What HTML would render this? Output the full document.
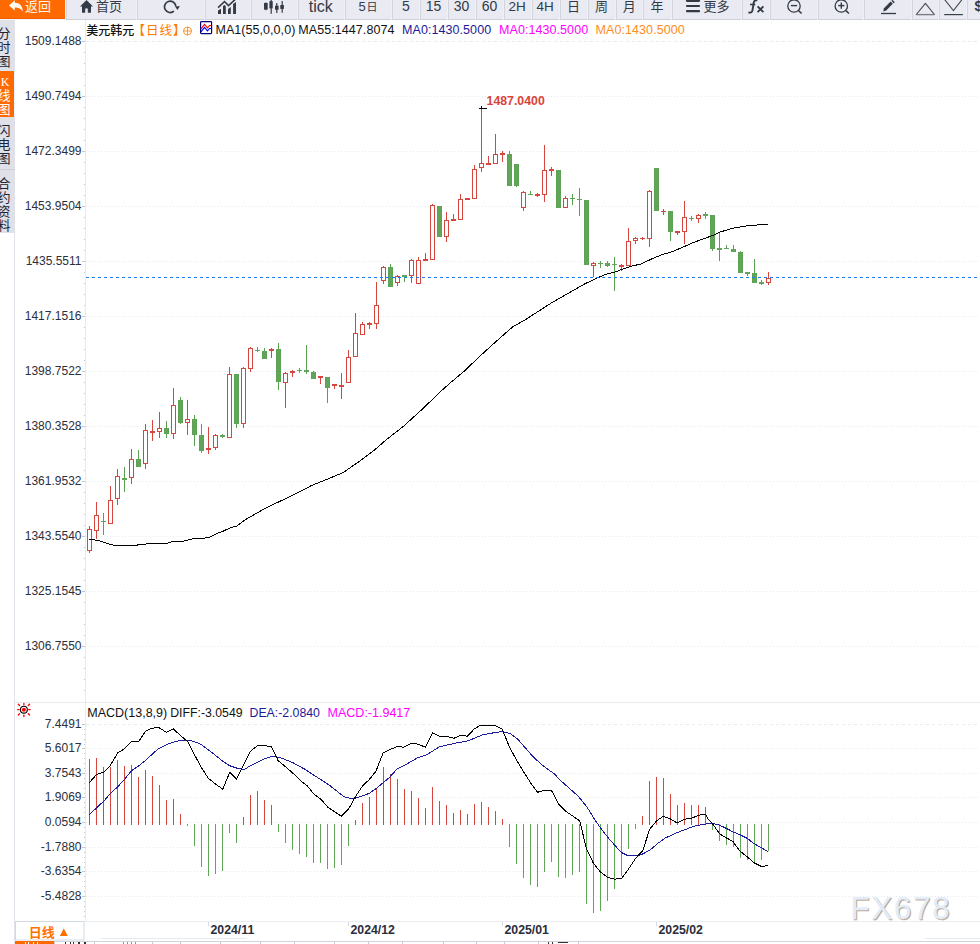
<!DOCTYPE html>
<html><head><meta charset="utf-8"><title>USDKRW</title>
<style>
html,body{margin:0;padding:0;background:#fff;width:980px;height:944px;overflow:hidden;}
body{position:relative;font-family:"Liberation Sans", "Noto Sans CJK SC", sans-serif;}
svg{position:absolute;left:0;top:0;}
</style></head>
<body>
<svg width="980" height="944" viewBox="0 0 980 944" shape-rendering="crispEdges">
<line x1="86" y1="41.5" x2="980" y2="41.5" stroke="#e6ebef" stroke-dasharray="3 3"/>
<line x1="86" y1="96.5" x2="980" y2="96.5" stroke="#e6ebef" stroke-dasharray="1 2"/>
<line x1="86" y1="151.5" x2="980" y2="151.5" stroke="#e6ebef" stroke-dasharray="1 2"/>
<line x1="86" y1="206.5" x2="980" y2="206.5" stroke="#e6ebef" stroke-dasharray="1 2"/>
<line x1="86" y1="261.5" x2="980" y2="261.5" stroke="#e6ebef" stroke-dasharray="1 2"/>
<line x1="86" y1="316.5" x2="980" y2="316.5" stroke="#e6ebef" stroke-dasharray="1 2"/>
<line x1="86" y1="371.5" x2="980" y2="371.5" stroke="#e6ebef" stroke-dasharray="1 2"/>
<line x1="86" y1="426.5" x2="980" y2="426.5" stroke="#e6ebef" stroke-dasharray="1 2"/>
<line x1="86" y1="481.5" x2="980" y2="481.5" stroke="#e6ebef" stroke-dasharray="1 2"/>
<line x1="86" y1="536.5" x2="980" y2="536.5" stroke="#e6ebef" stroke-dasharray="1 2"/>
<line x1="86" y1="591.5" x2="980" y2="591.5" stroke="#e6ebef" stroke-dasharray="1 2"/>
<line x1="86" y1="646.5" x2="980" y2="646.5" stroke="#e6ebef" stroke-dasharray="1 2"/>
<line x1="86" y1="724.5" x2="980" y2="724.5" stroke="#e6ebef" stroke-dasharray="3 3"/>
<line x1="86" y1="748.5" x2="980" y2="748.5" stroke="#e6ebef" stroke-dasharray="1 2"/>
<line x1="86" y1="773.5" x2="980" y2="773.5" stroke="#e6ebef" stroke-dasharray="1 2"/>
<line x1="86" y1="797.5" x2="980" y2="797.5" stroke="#e6ebef" stroke-dasharray="1 2"/>
<line x1="86" y1="822.5" x2="980" y2="822.5" stroke="#e6ebef" stroke-dasharray="1 2"/>
<line x1="86" y1="847.5" x2="980" y2="847.5" stroke="#e6ebef" stroke-dasharray="1 2"/>
<line x1="86" y1="871.5" x2="980" y2="871.5" stroke="#e6ebef" stroke-dasharray="1 2"/>
<line x1="86" y1="896.5" x2="980" y2="896.5" stroke="#e6ebef" stroke-dasharray="1 2"/>
<line x1="85.5" y1="20" x2="85.5" y2="921" stroke="#e6ebf0"/>
<line x1="14.5" y1="233" x2="14.5" y2="944" stroke="#dfe4ea"/>
<line x1="15" y1="702.5" x2="980" y2="702.5" stroke="#e6ebf0"/>
<line x1="85" y1="921.5" x2="980" y2="921.5" stroke="#e9edf2"/>
<line x1="82" y1="41.5" x2="85" y2="41.5" stroke="#bfc7d0"/>
<line x1="84" y1="52.5" x2="85" y2="52.5" stroke="#bfc7d0"/>
<line x1="84" y1="63.5" x2="85" y2="63.5" stroke="#bfc7d0"/>
<line x1="84" y1="74.5" x2="85" y2="74.5" stroke="#bfc7d0"/>
<line x1="84" y1="85.5" x2="85" y2="85.5" stroke="#bfc7d0"/>
<line x1="82" y1="96.5" x2="85" y2="96.5" stroke="#bfc7d0"/>
<line x1="84" y1="107.5" x2="85" y2="107.5" stroke="#bfc7d0"/>
<line x1="84" y1="118.5" x2="85" y2="118.5" stroke="#bfc7d0"/>
<line x1="84" y1="129.5" x2="85" y2="129.5" stroke="#bfc7d0"/>
<line x1="84" y1="140.5" x2="85" y2="140.5" stroke="#bfc7d0"/>
<line x1="82" y1="151.5" x2="85" y2="151.5" stroke="#bfc7d0"/>
<line x1="84" y1="162.5" x2="85" y2="162.5" stroke="#bfc7d0"/>
<line x1="84" y1="173.5" x2="85" y2="173.5" stroke="#bfc7d0"/>
<line x1="84" y1="184.5" x2="85" y2="184.5" stroke="#bfc7d0"/>
<line x1="84" y1="195.5" x2="85" y2="195.5" stroke="#bfc7d0"/>
<line x1="82" y1="206.5" x2="85" y2="206.5" stroke="#bfc7d0"/>
<line x1="84" y1="217.5" x2="85" y2="217.5" stroke="#bfc7d0"/>
<line x1="84" y1="228.5" x2="85" y2="228.5" stroke="#bfc7d0"/>
<line x1="84" y1="239.5" x2="85" y2="239.5" stroke="#bfc7d0"/>
<line x1="84" y1="250.5" x2="85" y2="250.5" stroke="#bfc7d0"/>
<line x1="82" y1="261.5" x2="85" y2="261.5" stroke="#bfc7d0"/>
<line x1="84" y1="272.5" x2="85" y2="272.5" stroke="#bfc7d0"/>
<line x1="84" y1="283.5" x2="85" y2="283.5" stroke="#bfc7d0"/>
<line x1="84" y1="294.5" x2="85" y2="294.5" stroke="#bfc7d0"/>
<line x1="84" y1="305.5" x2="85" y2="305.5" stroke="#bfc7d0"/>
<line x1="82" y1="316.5" x2="85" y2="316.5" stroke="#bfc7d0"/>
<line x1="84" y1="327.5" x2="85" y2="327.5" stroke="#bfc7d0"/>
<line x1="84" y1="338.5" x2="85" y2="338.5" stroke="#bfc7d0"/>
<line x1="84" y1="349.5" x2="85" y2="349.5" stroke="#bfc7d0"/>
<line x1="84" y1="360.5" x2="85" y2="360.5" stroke="#bfc7d0"/>
<line x1="82" y1="371.5" x2="85" y2="371.5" stroke="#bfc7d0"/>
<line x1="84" y1="382.5" x2="85" y2="382.5" stroke="#bfc7d0"/>
<line x1="84" y1="393.5" x2="85" y2="393.5" stroke="#bfc7d0"/>
<line x1="84" y1="404.5" x2="85" y2="404.5" stroke="#bfc7d0"/>
<line x1="84" y1="415.5" x2="85" y2="415.5" stroke="#bfc7d0"/>
<line x1="82" y1="426.5" x2="85" y2="426.5" stroke="#bfc7d0"/>
<line x1="84" y1="437.5" x2="85" y2="437.5" stroke="#bfc7d0"/>
<line x1="84" y1="448.5" x2="85" y2="448.5" stroke="#bfc7d0"/>
<line x1="84" y1="459.5" x2="85" y2="459.5" stroke="#bfc7d0"/>
<line x1="84" y1="470.5" x2="85" y2="470.5" stroke="#bfc7d0"/>
<line x1="82" y1="481.5" x2="85" y2="481.5" stroke="#bfc7d0"/>
<line x1="84" y1="492.5" x2="85" y2="492.5" stroke="#bfc7d0"/>
<line x1="84" y1="503.5" x2="85" y2="503.5" stroke="#bfc7d0"/>
<line x1="84" y1="514.5" x2="85" y2="514.5" stroke="#bfc7d0"/>
<line x1="84" y1="525.5" x2="85" y2="525.5" stroke="#bfc7d0"/>
<line x1="82" y1="536.5" x2="85" y2="536.5" stroke="#bfc7d0"/>
<line x1="84" y1="547.5" x2="85" y2="547.5" stroke="#bfc7d0"/>
<line x1="84" y1="558.5" x2="85" y2="558.5" stroke="#bfc7d0"/>
<line x1="84" y1="569.5" x2="85" y2="569.5" stroke="#bfc7d0"/>
<line x1="84" y1="580.5" x2="85" y2="580.5" stroke="#bfc7d0"/>
<line x1="82" y1="591.5" x2="85" y2="591.5" stroke="#bfc7d0"/>
<line x1="84" y1="602.5" x2="85" y2="602.5" stroke="#bfc7d0"/>
<line x1="84" y1="613.5" x2="85" y2="613.5" stroke="#bfc7d0"/>
<line x1="84" y1="624.5" x2="85" y2="624.5" stroke="#bfc7d0"/>
<line x1="84" y1="635.5" x2="85" y2="635.5" stroke="#bfc7d0"/>
<line x1="82" y1="646.5" x2="85" y2="646.5" stroke="#bfc7d0"/>
<line x1="84" y1="657.5" x2="85" y2="657.5" stroke="#bfc7d0"/>
<line x1="84" y1="668.5" x2="85" y2="668.5" stroke="#bfc7d0"/>
<line x1="84" y1="679.5" x2="85" y2="679.5" stroke="#bfc7d0"/>
<line x1="84" y1="690.5" x2="85" y2="690.5" stroke="#bfc7d0"/>
<line x1="82" y1="724.5" x2="85" y2="724.5" stroke="#bfc7d0"/>
<line x1="84" y1="729.5" x2="85" y2="729.5" stroke="#bfc7d0"/>
<line x1="84" y1="734.5" x2="85" y2="734.5" stroke="#bfc7d0"/>
<line x1="84" y1="739.5" x2="85" y2="739.5" stroke="#bfc7d0"/>
<line x1="84" y1="744.5" x2="85" y2="744.5" stroke="#bfc7d0"/>
<line x1="82" y1="748.5" x2="85" y2="748.5" stroke="#bfc7d0"/>
<line x1="84" y1="753.5" x2="85" y2="753.5" stroke="#bfc7d0"/>
<line x1="84" y1="758.5" x2="85" y2="758.5" stroke="#bfc7d0"/>
<line x1="84" y1="763.5" x2="85" y2="763.5" stroke="#bfc7d0"/>
<line x1="84" y1="768.5" x2="85" y2="768.5" stroke="#bfc7d0"/>
<line x1="82" y1="773.5" x2="85" y2="773.5" stroke="#bfc7d0"/>
<line x1="84" y1="778.5" x2="85" y2="778.5" stroke="#bfc7d0"/>
<line x1="84" y1="783.5" x2="85" y2="783.5" stroke="#bfc7d0"/>
<line x1="84" y1="788.5" x2="85" y2="788.5" stroke="#bfc7d0"/>
<line x1="84" y1="793.5" x2="85" y2="793.5" stroke="#bfc7d0"/>
<line x1="82" y1="797.5" x2="85" y2="797.5" stroke="#bfc7d0"/>
<line x1="84" y1="802.5" x2="85" y2="802.5" stroke="#bfc7d0"/>
<line x1="84" y1="807.5" x2="85" y2="807.5" stroke="#bfc7d0"/>
<line x1="84" y1="812.5" x2="85" y2="812.5" stroke="#bfc7d0"/>
<line x1="84" y1="817.5" x2="85" y2="817.5" stroke="#bfc7d0"/>
<line x1="82" y1="822.5" x2="85" y2="822.5" stroke="#bfc7d0"/>
<line x1="84" y1="827.5" x2="85" y2="827.5" stroke="#bfc7d0"/>
<line x1="84" y1="832.5" x2="85" y2="832.5" stroke="#bfc7d0"/>
<line x1="84" y1="837.5" x2="85" y2="837.5" stroke="#bfc7d0"/>
<line x1="84" y1="842.5" x2="85" y2="842.5" stroke="#bfc7d0"/>
<line x1="82" y1="847.5" x2="85" y2="847.5" stroke="#bfc7d0"/>
<line x1="84" y1="852.5" x2="85" y2="852.5" stroke="#bfc7d0"/>
<line x1="84" y1="857.5" x2="85" y2="857.5" stroke="#bfc7d0"/>
<line x1="84" y1="862.5" x2="85" y2="862.5" stroke="#bfc7d0"/>
<line x1="84" y1="867.5" x2="85" y2="867.5" stroke="#bfc7d0"/>
<line x1="82" y1="871.5" x2="85" y2="871.5" stroke="#bfc7d0"/>
<line x1="84" y1="876.5" x2="85" y2="876.5" stroke="#bfc7d0"/>
<line x1="84" y1="881.5" x2="85" y2="881.5" stroke="#bfc7d0"/>
<line x1="84" y1="886.5" x2="85" y2="886.5" stroke="#bfc7d0"/>
<line x1="84" y1="891.5" x2="85" y2="891.5" stroke="#bfc7d0"/>
<line x1="82" y1="896.5" x2="85" y2="896.5" stroke="#bfc7d0"/>
<line x1="84" y1="901.5" x2="85" y2="901.5" stroke="#bfc7d0"/>
<line x1="84" y1="906.5" x2="85" y2="906.5" stroke="#bfc7d0"/>
<line x1="84" y1="911.5" x2="85" y2="911.5" stroke="#bfc7d0"/>
<line x1="84" y1="916.5" x2="85" y2="916.5" stroke="#bfc7d0"/>
<line x1="89.5" y1="526" x2="89.5" y2="529" stroke="#d6463c"/>
<line x1="89.5" y1="551" x2="89.5" y2="553" stroke="#d6463c"/>
<rect x="87.5" y="529.5" width="4" height="21" fill="#fff" stroke="#d6463c"/>
<line x1="96.5" y1="502" x2="96.5" y2="515" stroke="#d6463c"/>
<line x1="96.5" y1="531" x2="96.5" y2="539" stroke="#d6463c"/>
<rect x="94.5" y="515.5" width="4" height="15" fill="#fff" stroke="#d6463c"/>
<line x1="103.5" y1="513" x2="103.5" y2="535" stroke="#57a04d"/>
<rect x="101" y="521" width="5" height="1" fill="#62a55a"/>
<line x1="110.5" y1="486" x2="110.5" y2="500" stroke="#d6463c"/>
<rect x="108.5" y="500.5" width="4" height="23" fill="#fff" stroke="#d6463c"/>
<line x1="117.5" y1="469" x2="117.5" y2="476" stroke="#d6463c"/>
<line x1="117.5" y1="499" x2="117.5" y2="505" stroke="#d6463c"/>
<rect x="115.5" y="476.5" width="4" height="22" fill="#fff" stroke="#d6463c"/>
<line x1="124.5" y1="467" x2="124.5" y2="492" stroke="#57a04d"/>
<rect x="122" y="478" width="5" height="2" fill="#62a55a"/>
<line x1="131.5" y1="449" x2="131.5" y2="459" stroke="#d6463c"/>
<line x1="131.5" y1="478" x2="131.5" y2="484" stroke="#d6463c"/>
<rect x="129.5" y="459.5" width="4" height="18" fill="#fff" stroke="#d6463c"/>
<line x1="138.5" y1="450" x2="138.5" y2="467" stroke="#57a04d"/>
<rect x="136" y="459" width="5" height="8" fill="#62a55a"/>
<line x1="136.5" y1="459" x2="136.5" y2="467" stroke="#57a04d" stroke-opacity="0.6"/>
<line x1="140.5" y1="459" x2="140.5" y2="467" stroke="#57a04d" stroke-opacity="0.6"/>
<line x1="145.5" y1="424" x2="145.5" y2="430" stroke="#d6463c"/>
<line x1="145.5" y1="464" x2="145.5" y2="469" stroke="#d6463c"/>
<rect x="143.5" y="430.5" width="4" height="33" fill="#fff" stroke="#d6463c"/>
<line x1="152.5" y1="420" x2="152.5" y2="431" stroke="#d6463c"/>
<line x1="152.5" y1="433" x2="152.5" y2="441" stroke="#d6463c"/>
<rect x="150" y="431" width="5" height="2" fill="#d6463c"/>
<line x1="159.5" y1="412" x2="159.5" y2="428" stroke="#d6463c"/>
<line x1="159.5" y1="432" x2="159.5" y2="438" stroke="#d6463c"/>
<rect x="157.5" y="428.5" width="4" height="3" fill="#fff" stroke="#d6463c"/>
<line x1="166.5" y1="421" x2="166.5" y2="438" stroke="#57a04d"/>
<rect x="164" y="428" width="5" height="6" fill="#62a55a"/>
<line x1="164.5" y1="428" x2="164.5" y2="434" stroke="#57a04d" stroke-opacity="0.6"/>
<line x1="168.5" y1="428" x2="168.5" y2="434" stroke="#57a04d" stroke-opacity="0.6"/>
<line x1="173.5" y1="388" x2="173.5" y2="405" stroke="#d6463c"/>
<line x1="173.5" y1="434" x2="173.5" y2="439" stroke="#d6463c"/>
<rect x="171.5" y="405.5" width="4" height="28" fill="#fff" stroke="#d6463c"/>
<line x1="180.5" y1="397" x2="180.5" y2="424" stroke="#57a04d"/>
<rect x="178" y="400" width="5" height="23" fill="#62a55a"/>
<line x1="178.5" y1="400" x2="178.5" y2="423" stroke="#57a04d" stroke-opacity="0.6"/>
<line x1="182.5" y1="400" x2="182.5" y2="423" stroke="#57a04d" stroke-opacity="0.6"/>
<line x1="187.5" y1="400" x2="187.5" y2="419" stroke="#d6463c"/>
<line x1="187.5" y1="423" x2="187.5" y2="435" stroke="#d6463c"/>
<rect x="185.5" y="419.5" width="4" height="3" fill="#fff" stroke="#d6463c"/>
<line x1="194.5" y1="415" x2="194.5" y2="446" stroke="#57a04d"/>
<rect x="192" y="419" width="5" height="16" fill="#62a55a"/>
<line x1="192.5" y1="419" x2="192.5" y2="435" stroke="#57a04d" stroke-opacity="0.6"/>
<line x1="196.5" y1="419" x2="196.5" y2="435" stroke="#57a04d" stroke-opacity="0.6"/>
<line x1="201.5" y1="424" x2="201.5" y2="453" stroke="#57a04d"/>
<rect x="199" y="435" width="5" height="16" fill="#62a55a"/>
<line x1="199.5" y1="435" x2="199.5" y2="451" stroke="#57a04d" stroke-opacity="0.6"/>
<line x1="203.5" y1="435" x2="203.5" y2="451" stroke="#57a04d" stroke-opacity="0.6"/>
<line x1="208.5" y1="427" x2="208.5" y2="448" stroke="#d6463c"/>
<line x1="208.5" y1="450" x2="208.5" y2="454" stroke="#d6463c"/>
<rect x="206" y="448" width="5" height="2" fill="#d6463c"/>
<line x1="215.5" y1="434" x2="215.5" y2="435" stroke="#d6463c"/>
<line x1="215.5" y1="448" x2="215.5" y2="450" stroke="#d6463c"/>
<rect x="213.5" y="435.5" width="4" height="12" fill="#fff" stroke="#d6463c"/>
<line x1="222.5" y1="434" x2="222.5" y2="438" stroke="#57a04d"/>
<rect x="220" y="435" width="5" height="2" fill="#62a55a"/>
<line x1="229.5" y1="367" x2="229.5" y2="374" stroke="#d6463c"/>
<rect x="227.5" y="374.5" width="4" height="63" fill="#fff" stroke="#d6463c"/>
<line x1="236.5" y1="374" x2="236.5" y2="428" stroke="#57a04d"/>
<rect x="234" y="374" width="5" height="50" fill="#62a55a"/>
<line x1="234.5" y1="374" x2="234.5" y2="424" stroke="#57a04d" stroke-opacity="0.6"/>
<line x1="238.5" y1="374" x2="238.5" y2="424" stroke="#57a04d" stroke-opacity="0.6"/>
<line x1="243.5" y1="367" x2="243.5" y2="368" stroke="#d6463c"/>
<line x1="243.5" y1="424" x2="243.5" y2="428" stroke="#d6463c"/>
<rect x="241.5" y="368.5" width="4" height="55" fill="#fff" stroke="#d6463c"/>
<line x1="250.5" y1="347" x2="250.5" y2="348" stroke="#d6463c"/>
<line x1="250.5" y1="369" x2="250.5" y2="372" stroke="#d6463c"/>
<rect x="248.5" y="348.5" width="4" height="20" fill="#fff" stroke="#d6463c"/>
<line x1="257.5" y1="347" x2="257.5" y2="352" stroke="#57a04d"/>
<rect x="255" y="350" width="5" height="1" fill="#62a55a"/>
<line x1="264.5" y1="348" x2="264.5" y2="359" stroke="#57a04d"/>
<rect x="262" y="351" width="5" height="8" fill="#62a55a"/>
<line x1="262.5" y1="351" x2="262.5" y2="359" stroke="#57a04d" stroke-opacity="0.6"/>
<line x1="266.5" y1="351" x2="266.5" y2="359" stroke="#57a04d" stroke-opacity="0.6"/>
<line x1="271.5" y1="348" x2="271.5" y2="349" stroke="#d6463c"/>
<line x1="271.5" y1="351" x2="271.5" y2="358" stroke="#d6463c"/>
<rect x="269" y="349" width="5" height="2" fill="#d6463c"/>
<line x1="278.5" y1="343" x2="278.5" y2="390" stroke="#57a04d"/>
<rect x="276" y="349" width="5" height="33" fill="#62a55a"/>
<line x1="276.5" y1="349" x2="276.5" y2="382" stroke="#57a04d" stroke-opacity="0.6"/>
<line x1="280.5" y1="349" x2="280.5" y2="382" stroke="#57a04d" stroke-opacity="0.6"/>
<line x1="285.5" y1="372" x2="285.5" y2="373" stroke="#d6463c"/>
<line x1="285.5" y1="383" x2="285.5" y2="408" stroke="#d6463c"/>
<rect x="283.5" y="373.5" width="4" height="9" fill="#fff" stroke="#d6463c"/>
<line x1="292.5" y1="370" x2="292.5" y2="371" stroke="#d6463c"/>
<line x1="292.5" y1="373" x2="292.5" y2="377" stroke="#d6463c"/>
<rect x="290" y="371" width="5" height="2" fill="#d6463c"/>
<line x1="299.5" y1="368" x2="299.5" y2="373" stroke="#57a04d"/>
<rect x="297" y="370" width="5" height="1" fill="#62a55a"/>
<line x1="306.5" y1="345" x2="306.5" y2="374" stroke="#57a04d"/>
<rect x="304" y="370" width="5" height="2" fill="#62a55a"/>
<line x1="313.5" y1="371" x2="313.5" y2="379" stroke="#57a04d"/>
<rect x="311" y="372" width="5" height="7" fill="#62a55a"/>
<line x1="311.5" y1="372" x2="311.5" y2="379" stroke="#57a04d" stroke-opacity="0.6"/>
<line x1="315.5" y1="372" x2="315.5" y2="379" stroke="#57a04d" stroke-opacity="0.6"/>
<line x1="320.5" y1="378" x2="320.5" y2="384" stroke="#d6463c"/>
<rect x="318" y="376" width="5" height="2" fill="#d6463c"/>
<line x1="327.5" y1="377" x2="327.5" y2="403" stroke="#57a04d"/>
<rect x="325" y="377" width="5" height="11" fill="#62a55a"/>
<line x1="325.5" y1="377" x2="325.5" y2="388" stroke="#57a04d" stroke-opacity="0.6"/>
<line x1="329.5" y1="377" x2="329.5" y2="388" stroke="#57a04d" stroke-opacity="0.6"/>
<line x1="334.5" y1="386" x2="334.5" y2="389" stroke="#d6463c"/>
<rect x="332" y="384" width="5" height="2" fill="#d6463c"/>
<line x1="341.5" y1="373" x2="341.5" y2="385" stroke="#d6463c"/>
<line x1="341.5" y1="387" x2="341.5" y2="399" stroke="#d6463c"/>
<rect x="339" y="385" width="5" height="2" fill="#d6463c"/>
<line x1="348.5" y1="350" x2="348.5" y2="357" stroke="#d6463c"/>
<rect x="346.5" y="357.5" width="4" height="25" fill="#fff" stroke="#d6463c"/>
<line x1="355.5" y1="313" x2="355.5" y2="333" stroke="#d6463c"/>
<rect x="353.5" y="333.5" width="4" height="23" fill="#fff" stroke="#d6463c"/>
<line x1="362.5" y1="322" x2="362.5" y2="324" stroke="#d6463c"/>
<rect x="360.5" y="324.5" width="4" height="10" fill="#fff" stroke="#d6463c"/>
<line x1="369.5" y1="322" x2="369.5" y2="323" stroke="#d6463c"/>
<line x1="369.5" y1="325" x2="369.5" y2="329" stroke="#d6463c"/>
<rect x="367" y="323" width="5" height="2" fill="#d6463c"/>
<line x1="376.5" y1="282" x2="376.5" y2="305" stroke="#d6463c"/>
<line x1="376.5" y1="324" x2="376.5" y2="329" stroke="#d6463c"/>
<rect x="374.5" y="305.5" width="4" height="18" fill="#fff" stroke="#d6463c"/>
<line x1="383.5" y1="266" x2="383.5" y2="267" stroke="#d6463c"/>
<line x1="383.5" y1="281" x2="383.5" y2="284" stroke="#d6463c"/>
<rect x="381.5" y="267.5" width="4" height="13" fill="#fff" stroke="#d6463c"/>
<line x1="390.5" y1="264" x2="390.5" y2="287" stroke="#57a04d"/>
<rect x="388" y="267" width="5" height="20" fill="#62a55a"/>
<line x1="388.5" y1="267" x2="388.5" y2="287" stroke="#57a04d" stroke-opacity="0.6"/>
<line x1="392.5" y1="267" x2="392.5" y2="287" stroke="#57a04d" stroke-opacity="0.6"/>
<line x1="397.5" y1="275" x2="397.5" y2="276" stroke="#d6463c"/>
<line x1="397.5" y1="283" x2="397.5" y2="286" stroke="#d6463c"/>
<rect x="395.5" y="276.5" width="4" height="6" fill="#fff" stroke="#d6463c"/>
<line x1="404.5" y1="275" x2="404.5" y2="282" stroke="#57a04d"/>
<rect x="402" y="275" width="5" height="2" fill="#62a55a"/>
<line x1="411.5" y1="259" x2="411.5" y2="260" stroke="#d6463c"/>
<line x1="411.5" y1="276" x2="411.5" y2="283" stroke="#d6463c"/>
<rect x="409.5" y="260.5" width="4" height="15" fill="#fff" stroke="#d6463c"/>
<line x1="418.5" y1="257" x2="418.5" y2="260" stroke="#d6463c"/>
<rect x="416.5" y="260.5" width="4" height="23" fill="#fff" stroke="#d6463c"/>
<line x1="425.5" y1="253" x2="425.5" y2="259" stroke="#d6463c"/>
<rect x="423" y="259" width="5" height="2" fill="#d6463c"/>
<line x1="432.5" y1="204" x2="432.5" y2="205" stroke="#d6463c"/>
<rect x="430.5" y="205.5" width="4" height="54" fill="#fff" stroke="#d6463c"/>
<line x1="439.5" y1="206" x2="439.5" y2="237" stroke="#57a04d"/>
<rect x="437" y="206" width="5" height="31" fill="#62a55a"/>
<line x1="437.5" y1="206" x2="437.5" y2="237" stroke="#57a04d" stroke-opacity="0.6"/>
<line x1="441.5" y1="206" x2="441.5" y2="237" stroke="#57a04d" stroke-opacity="0.6"/>
<line x1="446.5" y1="212" x2="446.5" y2="220" stroke="#d6463c"/>
<line x1="446.5" y1="237" x2="446.5" y2="242" stroke="#d6463c"/>
<rect x="444.5" y="220.5" width="4" height="16" fill="#fff" stroke="#d6463c"/>
<line x1="453.5" y1="214" x2="453.5" y2="219" stroke="#d6463c"/>
<rect x="451" y="219" width="5" height="2" fill="#d6463c"/>
<line x1="460.5" y1="194" x2="460.5" y2="199" stroke="#d6463c"/>
<rect x="458.5" y="199.5" width="4" height="20" fill="#fff" stroke="#d6463c"/>
<rect x="465" y="198" width="5" height="2" fill="#d6463c"/>
<line x1="474.5" y1="165" x2="474.5" y2="169" stroke="#d6463c"/>
<rect x="472.5" y="169.5" width="4" height="29" fill="#fff" stroke="#d6463c"/>
<line x1="481.5" y1="107" x2="481.5" y2="163" stroke="#d6463c"/>
<line x1="481.5" y1="168" x2="481.5" y2="172" stroke="#d6463c"/>
<rect x="479.5" y="163.5" width="4" height="4" fill="#fff" stroke="#d6463c"/>
<line x1="488.5" y1="156" x2="488.5" y2="163" stroke="#d6463c"/>
<rect x="486" y="163" width="5" height="2" fill="#d6463c"/>
<line x1="495.5" y1="134" x2="495.5" y2="154" stroke="#d6463c"/>
<rect x="493.5" y="154.5" width="4" height="9" fill="#fff" stroke="#d6463c"/>
<line x1="502.5" y1="151" x2="502.5" y2="153" stroke="#d6463c"/>
<line x1="502.5" y1="155" x2="502.5" y2="162" stroke="#d6463c"/>
<rect x="500" y="153" width="5" height="2" fill="#d6463c"/>
<line x1="509.5" y1="151" x2="509.5" y2="186" stroke="#57a04d"/>
<rect x="507" y="154" width="5" height="32" fill="#62a55a"/>
<line x1="507.5" y1="154" x2="507.5" y2="186" stroke="#57a04d" stroke-opacity="0.6"/>
<line x1="511.5" y1="154" x2="511.5" y2="186" stroke="#57a04d" stroke-opacity="0.6"/>
<line x1="516.5" y1="164" x2="516.5" y2="187" stroke="#57a04d"/>
<rect x="514" y="164" width="5" height="22" fill="#62a55a"/>
<line x1="514.5" y1="164" x2="514.5" y2="186" stroke="#57a04d" stroke-opacity="0.6"/>
<line x1="518.5" y1="164" x2="518.5" y2="186" stroke="#57a04d" stroke-opacity="0.6"/>
<line x1="523.5" y1="191" x2="523.5" y2="192" stroke="#d6463c"/>
<line x1="523.5" y1="208" x2="523.5" y2="211" stroke="#d6463c"/>
<rect x="521.5" y="192.5" width="4" height="15" fill="#fff" stroke="#d6463c"/>
<line x1="530.5" y1="191" x2="530.5" y2="195" stroke="#57a04d"/>
<rect x="528" y="194" width="5" height="1" fill="#62a55a"/>
<line x1="537.5" y1="193" x2="537.5" y2="194" stroke="#d6463c"/>
<line x1="537.5" y1="196" x2="537.5" y2="197" stroke="#d6463c"/>
<rect x="535" y="194" width="5" height="2" fill="#d6463c"/>
<line x1="544.5" y1="145" x2="544.5" y2="170" stroke="#d6463c"/>
<line x1="544.5" y1="195" x2="544.5" y2="202" stroke="#d6463c"/>
<rect x="542.5" y="170.5" width="4" height="24" fill="#fff" stroke="#d6463c"/>
<line x1="551.5" y1="167" x2="551.5" y2="169" stroke="#d6463c"/>
<line x1="551.5" y1="171" x2="551.5" y2="176" stroke="#d6463c"/>
<rect x="549" y="169" width="5" height="2" fill="#d6463c"/>
<line x1="558.5" y1="170" x2="558.5" y2="208" stroke="#57a04d"/>
<rect x="556" y="170" width="5" height="38" fill="#62a55a"/>
<line x1="556.5" y1="170" x2="556.5" y2="208" stroke="#57a04d" stroke-opacity="0.6"/>
<line x1="560.5" y1="170" x2="560.5" y2="208" stroke="#57a04d" stroke-opacity="0.6"/>
<line x1="565.5" y1="196" x2="565.5" y2="198" stroke="#d6463c"/>
<rect x="563.5" y="198.5" width="4" height="9" fill="#fff" stroke="#d6463c"/>
<line x1="572.5" y1="194" x2="572.5" y2="205" stroke="#57a04d"/>
<rect x="570" y="198" width="5" height="1" fill="#62a55a"/>
<line x1="579.5" y1="188" x2="579.5" y2="216" stroke="#57a04d"/>
<rect x="577" y="199" width="5" height="1" fill="#62a55a"/>
<line x1="586.5" y1="200" x2="586.5" y2="265" stroke="#57a04d"/>
<rect x="584" y="200" width="5" height="65" fill="#62a55a"/>
<line x1="584.5" y1="200" x2="584.5" y2="265" stroke="#57a04d" stroke-opacity="0.6"/>
<line x1="588.5" y1="200" x2="588.5" y2="265" stroke="#57a04d" stroke-opacity="0.6"/>
<line x1="593.5" y1="262" x2="593.5" y2="263" stroke="#d6463c"/>
<line x1="593.5" y1="266" x2="593.5" y2="277" stroke="#d6463c"/>
<rect x="591.5" y="263.5" width="4" height="2" fill="#fff" stroke="#d6463c"/>
<line x1="600.5" y1="261" x2="600.5" y2="268" stroke="#57a04d"/>
<rect x="598" y="263" width="5" height="1" fill="#62a55a"/>
<line x1="607.5" y1="261" x2="607.5" y2="267" stroke="#57a04d"/>
<rect x="605" y="263" width="5" height="3" fill="#62a55a"/>
<line x1="605.5" y1="263" x2="605.5" y2="266" stroke="#57a04d" stroke-opacity="0.6"/>
<line x1="609.5" y1="263" x2="609.5" y2="266" stroke="#57a04d" stroke-opacity="0.6"/>
<line x1="614.5" y1="257" x2="614.5" y2="291" stroke="#57a04d"/>
<rect x="612" y="264" width="5" height="1" fill="#62a55a"/>
<line x1="621.5" y1="264" x2="621.5" y2="265" stroke="#d6463c"/>
<line x1="621.5" y1="267" x2="621.5" y2="271" stroke="#d6463c"/>
<rect x="619" y="265" width="5" height="2" fill="#d6463c"/>
<line x1="628.5" y1="228" x2="628.5" y2="241" stroke="#d6463c"/>
<rect x="626.5" y="241.5" width="4" height="24" fill="#fff" stroke="#d6463c"/>
<line x1="635.5" y1="237" x2="635.5" y2="238" stroke="#d6463c"/>
<line x1="635.5" y1="241" x2="635.5" y2="244" stroke="#d6463c"/>
<rect x="633.5" y="238.5" width="4" height="2" fill="#fff" stroke="#d6463c"/>
<line x1="642.5" y1="237" x2="642.5" y2="238" stroke="#d6463c"/>
<line x1="642.5" y1="239" x2="642.5" y2="240" stroke="#d6463c"/>
<rect x="640" y="238" width="5" height="1" fill="#d6463c"/>
<line x1="649.5" y1="190" x2="649.5" y2="191" stroke="#d6463c"/>
<line x1="649.5" y1="239" x2="649.5" y2="247" stroke="#d6463c"/>
<rect x="647.5" y="191.5" width="4" height="47" fill="#fff" stroke="#d6463c"/>
<line x1="656.5" y1="168" x2="656.5" y2="211" stroke="#57a04d"/>
<rect x="654" y="168" width="5" height="43" fill="#62a55a"/>
<line x1="654.5" y1="168" x2="654.5" y2="211" stroke="#57a04d" stroke-opacity="0.6"/>
<line x1="658.5" y1="168" x2="658.5" y2="211" stroke="#57a04d" stroke-opacity="0.6"/>
<line x1="663.5" y1="209" x2="663.5" y2="211" stroke="#d6463c"/>
<line x1="663.5" y1="212" x2="663.5" y2="215" stroke="#d6463c"/>
<rect x="661" y="211" width="5" height="1" fill="#d6463c"/>
<line x1="670.5" y1="211" x2="670.5" y2="241" stroke="#57a04d"/>
<rect x="668" y="211" width="5" height="21" fill="#62a55a"/>
<line x1="668.5" y1="211" x2="668.5" y2="232" stroke="#57a04d" stroke-opacity="0.6"/>
<line x1="672.5" y1="211" x2="672.5" y2="232" stroke="#57a04d" stroke-opacity="0.6"/>
<line x1="677.5" y1="233" x2="677.5" y2="235" stroke="#d6463c"/>
<rect x="675" y="231" width="5" height="2" fill="#d6463c"/>
<line x1="684.5" y1="201" x2="684.5" y2="217" stroke="#d6463c"/>
<line x1="684.5" y1="232" x2="684.5" y2="244" stroke="#d6463c"/>
<rect x="682.5" y="217.5" width="4" height="14" fill="#fff" stroke="#d6463c"/>
<line x1="691.5" y1="216" x2="691.5" y2="221" stroke="#57a04d"/>
<rect x="689" y="218" width="5" height="1" fill="#62a55a"/>
<line x1="698.5" y1="214" x2="698.5" y2="215" stroke="#d6463c"/>
<line x1="698.5" y1="219" x2="698.5" y2="223" stroke="#d6463c"/>
<rect x="696.5" y="215.5" width="4" height="3" fill="#fff" stroke="#d6463c"/>
<line x1="705.5" y1="212" x2="705.5" y2="219" stroke="#57a04d"/>
<rect x="703" y="214" width="5" height="2" fill="#62a55a"/>
<line x1="712.5" y1="215" x2="712.5" y2="251" stroke="#57a04d"/>
<rect x="710" y="215" width="5" height="34" fill="#62a55a"/>
<line x1="710.5" y1="215" x2="710.5" y2="249" stroke="#57a04d" stroke-opacity="0.6"/>
<line x1="714.5" y1="215" x2="714.5" y2="249" stroke="#57a04d" stroke-opacity="0.6"/>
<line x1="719.5" y1="233" x2="719.5" y2="261" stroke="#57a04d"/>
<rect x="717" y="248" width="5" height="2" fill="#62a55a"/>
<line x1="726.5" y1="245" x2="726.5" y2="249" stroke="#57a04d"/>
<rect x="724" y="248" width="5" height="1" fill="#62a55a"/>
<line x1="733.5" y1="245" x2="733.5" y2="252" stroke="#57a04d"/>
<rect x="731" y="249" width="5" height="3" fill="#62a55a"/>
<line x1="731.5" y1="249" x2="731.5" y2="252" stroke="#57a04d" stroke-opacity="0.6"/>
<line x1="735.5" y1="249" x2="735.5" y2="252" stroke="#57a04d" stroke-opacity="0.6"/>
<line x1="740.5" y1="251" x2="740.5" y2="273" stroke="#57a04d"/>
<rect x="738" y="252" width="5" height="21" fill="#62a55a"/>
<line x1="738.5" y1="252" x2="738.5" y2="273" stroke="#57a04d" stroke-opacity="0.6"/>
<line x1="742.5" y1="252" x2="742.5" y2="273" stroke="#57a04d" stroke-opacity="0.6"/>
<line x1="747.5" y1="272" x2="747.5" y2="276" stroke="#57a04d"/>
<rect x="745" y="272" width="5" height="2" fill="#62a55a"/>
<line x1="754.5" y1="259" x2="754.5" y2="283" stroke="#57a04d"/>
<rect x="752" y="273" width="5" height="10" fill="#62a55a"/>
<line x1="752.5" y1="273" x2="752.5" y2="283" stroke="#57a04d" stroke-opacity="0.6"/>
<line x1="756.5" y1="273" x2="756.5" y2="283" stroke="#57a04d" stroke-opacity="0.6"/>
<line x1="761.5" y1="280" x2="761.5" y2="285" stroke="#57a04d"/>
<rect x="759" y="282" width="5" height="2" fill="#62a55a"/>
<line x1="768.5" y1="272" x2="768.5" y2="278" stroke="#d6463c"/>
<line x1="768.5" y1="283" x2="768.5" y2="285" stroke="#d6463c"/>
<rect x="766.5" y="278.5" width="4" height="4" fill="#fff" stroke="#d6463c"/>
<polyline points="89.1,539.2 97.6,540.4 102.6,541.9 109.0,543.9 114.0,545.3 134.0,545.4 148.3,543.8 149.7,543.1 167.6,543.1 172.6,541.4 184.0,541.1 193.3,538.6 204.7,538.1 209.7,537.1 218.3,532.9 222.6,531.4 229.8,528.0 237.1,525.9 244.5,520.2 265.7,508.0 293.5,494.9 311.4,485.6 326.1,479.7 343.3,472.5 360.4,460.6 373.5,450.8 386.3,439.7 403.5,426.3 422.2,409.2 442.7,389.6 450.0,383.1 464.7,370.8 477.8,358.1 491.6,345.5 500.0,338.0 513.1,326.5 524.5,320.3 537.6,311.8 552.2,302.4 568.6,293.1 584.9,283.8 598.0,277.6 606.1,274.3 614.3,272.3 624.1,268.6 630.6,266.4 642.0,263.7 650.2,259.6 663.3,254.1 671.2,252.1 680.5,248.2 691.1,243.5 703.1,238.9 712.4,235.6 720.3,232.0 732.3,228.3 742.9,226.5 752.0,225.2 760.0,224.9 767.8,224.9" fill="none" stroke="#000" stroke-width="1"/>
<line x1="86" y1="277.5" x2="980" y2="277.5" stroke="#1a7df0" stroke-dasharray="3 3"/>
<line x1="479" y1="108.5" x2="487" y2="108.5" stroke="#000"/>
<line x1="481.5" y1="106" x2="481.5" y2="109" stroke="#000"/>
<line x1="89.5" y1="759" x2="89.5" y2="825" stroke="#d6463c"/>
<line x1="96.5" y1="758" x2="96.5" y2="825" stroke="#d6463c"/>
<line x1="103.5" y1="767" x2="103.5" y2="825" stroke="#d6463c"/>
<line x1="110.5" y1="767" x2="110.5" y2="825" stroke="#d6463c"/>
<line x1="117.5" y1="760" x2="117.5" y2="825" stroke="#d6463c"/>
<line x1="124.5" y1="766" x2="124.5" y2="825" stroke="#d6463c"/>
<line x1="131.5" y1="765" x2="131.5" y2="825" stroke="#d6463c"/>
<line x1="138.5" y1="777" x2="138.5" y2="825" stroke="#d6463c"/>
<line x1="145.5" y1="770" x2="145.5" y2="825" stroke="#d6463c"/>
<line x1="152.5" y1="776" x2="152.5" y2="825" stroke="#d6463c"/>
<line x1="159.5" y1="785" x2="159.5" y2="825" stroke="#d6463c"/>
<line x1="166.5" y1="800" x2="166.5" y2="825" stroke="#d6463c"/>
<line x1="173.5" y1="799" x2="173.5" y2="825" stroke="#d6463c"/>
<line x1="180.5" y1="814" x2="180.5" y2="825" stroke="#d6463c"/>
<line x1="187.5" y1="824" x2="187.5" y2="826" stroke="#5fa657"/>
<line x1="194.5" y1="824" x2="194.5" y2="846" stroke="#5fa657"/>
<line x1="201.5" y1="824" x2="201.5" y2="867" stroke="#5fa657"/>
<line x1="208.5" y1="824" x2="208.5" y2="876" stroke="#5fa657"/>
<line x1="215.5" y1="824" x2="215.5" y2="873.5" stroke="#5fa657"/>
<line x1="222.5" y1="824" x2="222.5" y2="871" stroke="#5fa657"/>
<line x1="229.5" y1="824" x2="229.5" y2="833" stroke="#5fa657"/>
<line x1="236.5" y1="824" x2="236.5" y2="842.5" stroke="#5fa657"/>
<line x1="243.5" y1="817" x2="243.5" y2="825" stroke="#d6463c"/>
<line x1="250.5" y1="795" x2="250.5" y2="825" stroke="#d6463c"/>
<line x1="257.5" y1="791" x2="257.5" y2="825" stroke="#d6463c"/>
<line x1="264.5" y1="800" x2="264.5" y2="825" stroke="#d6463c"/>
<line x1="271.5" y1="805" x2="271.5" y2="825" stroke="#d6463c"/>
<line x1="278.5" y1="824" x2="278.5" y2="831.5" stroke="#5fa657"/>
<line x1="285.5" y1="824" x2="285.5" y2="842.5" stroke="#5fa657"/>
<line x1="292.5" y1="824" x2="292.5" y2="849.5" stroke="#5fa657"/>
<line x1="299.5" y1="824" x2="299.5" y2="854" stroke="#5fa657"/>
<line x1="306.5" y1="824" x2="306.5" y2="856.5" stroke="#5fa657"/>
<line x1="313.5" y1="824" x2="313.5" y2="862.7" stroke="#5fa657"/>
<line x1="320.5" y1="824" x2="320.5" y2="862.7" stroke="#5fa657"/>
<line x1="327.5" y1="824" x2="327.5" y2="868.6" stroke="#5fa657"/>
<line x1="334.5" y1="824" x2="334.5" y2="867.5" stroke="#5fa657"/>
<line x1="341.5" y1="824" x2="341.5" y2="864.8" stroke="#5fa657"/>
<line x1="348.5" y1="824" x2="348.5" y2="845.7" stroke="#5fa657"/>
<line x1="355.5" y1="820" x2="355.5" y2="825" stroke="#d6463c"/>
<line x1="362.5" y1="803" x2="362.5" y2="825" stroke="#d6463c"/>
<line x1="369.5" y1="797" x2="369.5" y2="825" stroke="#d6463c"/>
<line x1="376.5" y1="788" x2="376.5" y2="825" stroke="#d6463c"/>
<line x1="383.5" y1="767" x2="383.5" y2="825" stroke="#d6463c"/>
<line x1="390.5" y1="774" x2="390.5" y2="825" stroke="#d6463c"/>
<line x1="397.5" y1="779" x2="397.5" y2="825" stroke="#d6463c"/>
<line x1="404.5" y1="789" x2="404.5" y2="825" stroke="#d6463c"/>
<line x1="411.5" y1="791" x2="411.5" y2="825" stroke="#d6463c"/>
<line x1="418.5" y1="798" x2="418.5" y2="825" stroke="#d6463c"/>
<line x1="425.5" y1="808" x2="425.5" y2="825" stroke="#d6463c"/>
<line x1="432.5" y1="787" x2="432.5" y2="825" stroke="#d6463c"/>
<line x1="439.5" y1="801" x2="439.5" y2="825" stroke="#d6463c"/>
<line x1="446.5" y1="805" x2="446.5" y2="825" stroke="#d6463c"/>
<line x1="453.5" y1="813" x2="453.5" y2="825" stroke="#d6463c"/>
<line x1="460.5" y1="810" x2="460.5" y2="825" stroke="#d6463c"/>
<line x1="467.5" y1="814" x2="467.5" y2="825" stroke="#d6463c"/>
<line x1="474.5" y1="804" x2="474.5" y2="825" stroke="#d6463c"/>
<line x1="481.5" y1="802" x2="481.5" y2="825" stroke="#d6463c"/>
<line x1="488.5" y1="807" x2="488.5" y2="825" stroke="#d6463c"/>
<line x1="495.5" y1="811" x2="495.5" y2="825" stroke="#d6463c"/>
<line x1="502.5" y1="819" x2="502.5" y2="825" stroke="#d6463c"/>
<line x1="509.5" y1="824" x2="509.5" y2="847" stroke="#5fa657"/>
<line x1="516.5" y1="824" x2="516.5" y2="864" stroke="#5fa657"/>
<line x1="523.5" y1="824" x2="523.5" y2="878" stroke="#5fa657"/>
<line x1="530.5" y1="824" x2="530.5" y2="884.5" stroke="#5fa657"/>
<line x1="537.5" y1="824" x2="537.5" y2="886.6" stroke="#5fa657"/>
<line x1="544.5" y1="824" x2="544.5" y2="872" stroke="#5fa657"/>
<line x1="551.5" y1="824" x2="551.5" y2="861.6" stroke="#5fa657"/>
<line x1="558.5" y1="824" x2="558.5" y2="877" stroke="#5fa657"/>
<line x1="565.5" y1="824" x2="565.5" y2="878" stroke="#5fa657"/>
<line x1="572.5" y1="824" x2="572.5" y2="875" stroke="#5fa657"/>
<line x1="579.5" y1="824" x2="579.5" y2="872" stroke="#5fa657"/>
<line x1="586.5" y1="824" x2="586.5" y2="903.6" stroke="#5fa657"/>
<line x1="593.5" y1="824" x2="593.5" y2="912.5" stroke="#5fa657"/>
<line x1="600.5" y1="824" x2="600.5" y2="911" stroke="#5fa657"/>
<line x1="607.5" y1="824" x2="607.5" y2="901" stroke="#5fa657"/>
<line x1="614.5" y1="824" x2="614.5" y2="888.7" stroke="#5fa657"/>
<line x1="621.5" y1="824" x2="621.5" y2="876" stroke="#5fa657"/>
<line x1="628.5" y1="824" x2="628.5" y2="849" stroke="#5fa657"/>
<line x1="635.5" y1="824" x2="635.5" y2="829" stroke="#5fa657"/>
<line x1="642.5" y1="816" x2="642.5" y2="825" stroke="#d6463c"/>
<line x1="649.5" y1="781" x2="649.5" y2="825" stroke="#d6463c"/>
<line x1="656.5" y1="777" x2="656.5" y2="825" stroke="#d6463c"/>
<line x1="663.5" y1="778" x2="663.5" y2="825" stroke="#d6463c"/>
<line x1="670.5" y1="794" x2="670.5" y2="825" stroke="#d6463c"/>
<line x1="677.5" y1="805" x2="677.5" y2="825" stroke="#d6463c"/>
<line x1="684.5" y1="803" x2="684.5" y2="825" stroke="#d6463c"/>
<line x1="691.5" y1="805" x2="691.5" y2="825" stroke="#d6463c"/>
<line x1="698.5" y1="805" x2="698.5" y2="825" stroke="#d6463c"/>
<line x1="705.5" y1="807" x2="705.5" y2="825" stroke="#d6463c"/>
<line x1="712.5" y1="824" x2="712.5" y2="830" stroke="#5fa657"/>
<line x1="719.5" y1="824" x2="719.5" y2="841" stroke="#5fa657"/>
<line x1="726.5" y1="824" x2="726.5" y2="845" stroke="#5fa657"/>
<line x1="733.5" y1="824" x2="733.5" y2="847" stroke="#5fa657"/>
<line x1="740.5" y1="824" x2="740.5" y2="858" stroke="#5fa657"/>
<line x1="747.5" y1="824" x2="747.5" y2="860" stroke="#5fa657"/>
<line x1="754.5" y1="824" x2="754.5" y2="862" stroke="#5fa657"/>
<line x1="761.5" y1="824" x2="761.5" y2="860" stroke="#5fa657"/>
<line x1="768.5" y1="824" x2="768.5" y2="851" stroke="#5fa657"/>
<polyline points="89.3,814.6 96.7,807.8 104.1,800.8 110.5,793.4 117.5,787.0 124.3,779.6 131.7,770.5 138.7,765.8 145.4,760.5 151.8,754.6 158.2,748.9 166.6,744.7 173.4,742.1 180.4,740.4 187.8,740.0 194.2,741.5 201.6,744.7 208.6,750.0 215.4,755.3 222.8,761.2 229.8,765.8 236.5,768.0 244.0,769.7 250.2,765.8 258.0,762.0 265.4,758.4 272.8,756.3 282.4,758.4 293.0,762.7 305.7,769.7 314.2,775.4 329.0,784.9 343.8,796.6 350.2,798.3 355.5,798.3 369.2,793.4 376.7,788.1 389.4,777.5 397.0,769.0 403.5,765.8 418.3,757.4 425.7,755.3 439.5,746.8 453.3,743.6 468.1,740.8 481.9,735.1 494.6,732.6 502.0,731.5 510.5,733.6 517.9,739.4 525.3,747.8 532.7,756.3 541.2,764.2 547.5,769.0 555.0,774.3 558.5,778.6 569.1,788.1 578.6,796.6 587.1,807.2 594.5,819.2 600.8,828.3 608.3,837.9 615.7,846.4 622.0,852.7 628.4,855.9 636.9,855.9 643.2,853.8 650.6,849.5 658.0,843.2 665.5,837.9 677.1,832.6 685.6,829.4 694.1,826.2 704.7,824.1 712.2,823.4 718.1,824.5 726.0,828.2 733.4,832.1 740.3,834.9 747.2,838.3 753.6,843.3 761.0,847.6 767.9,851.5" fill="none" stroke="#1b1ba0" stroke-width="1"/>
<polyline points="89.3,782.8 96.7,774.3 104.1,772.2 110.5,765.2 117.5,753.1 124.3,748.9 131.7,741.5 138.7,741.5 145.4,731.5 151.8,728.3 158.2,727.3 166.6,732.4 173.4,728.8 180.4,735.6 187.8,741.5 194.2,754.2 201.6,768.0 208.6,778.6 215.4,783.9 222.8,789.2 229.8,772.2 236.5,779.0 244.0,763.7 250.2,751.4 258.0,745.3 271.4,746.4 278.1,760.6 285.6,766.9 293.0,773.3 300.4,780.7 307.4,786.0 314.2,794.4 320.9,799.3 327.9,807.2 334.9,812.0 341.3,816.3 349.1,808.2 355.5,796.6 362.5,786.0 369.2,779.6 376.0,771.1 383.0,753.1 390.4,749.3 397.8,746.4 403.5,747.2 412.0,743.2 418.3,744.2 425.3,747.2 432.5,733.0 439.5,736.2 446.9,736.6 453.9,738.3 460.7,735.3 467.5,736.2 474.4,728.8 480.8,725.2 494.6,725.2 502.0,728.8 509.4,746.8 516.2,759.5 523.2,771.1 530.6,782.8 537.6,792.3 544.4,790.2 551.4,790.2 558.5,804.0 565.9,811.4 572.2,815.6 579.7,820.9 586.4,848.5 593.4,863.3 600.4,871.8 607.2,877.1 614.6,879.2 622.0,878.1 628.8,868.6 635.8,858.0 642.8,850.6 649.6,829.4 656.6,820.9 663.3,816.3 670.3,818.8 677.1,823.0 684.5,819.2 691.5,818.4 698.5,815.2 705.4,814.1 708.5,819.7 712.2,823.2 719.7,834.0 726.0,837.7 732.9,841.4 739.8,851.0 747.2,856.8 754.1,862.8 761.0,866.3 764.2,866.3 767.9,865.3" fill="none" stroke="#000" stroke-width="1"/>
</svg>
<svg width="980" height="944" viewBox="0 0 980 944" font-family='"Liberation Sans", "Noto Sans CJK SC", sans-serif' font-size="12" fill="#2b2f3e">
<text x="81.5" y="44.6" text-anchor="end">1509.1488</text>
<text x="81.5" y="99.6" text-anchor="end">1490.7494</text>
<text x="81.5" y="154.6" text-anchor="end">1472.3499</text>
<text x="81.5" y="209.6" text-anchor="end">1453.9504</text>
<text x="81.5" y="264.6" text-anchor="end">1435.5511</text>
<text x="81.5" y="319.6" text-anchor="end">1417.1516</text>
<text x="81.5" y="374.6" text-anchor="end">1398.7522</text>
<text x="81.5" y="429.6" text-anchor="end">1380.3528</text>
<text x="81.5" y="484.6" text-anchor="end">1361.9532</text>
<text x="81.5" y="539.6" text-anchor="end">1343.5540</text>
<text x="81.5" y="594.6" text-anchor="end">1325.1545</text>
<text x="81.5" y="649.6" text-anchor="end">1306.7550</text>
<text x="81.5" y="727.6" text-anchor="end">7.4491</text>
<text x="81.5" y="751.6" text-anchor="end">5.6017</text>
<text x="81.5" y="776.6" text-anchor="end">3.7543</text>
<text x="81.5" y="800.6" text-anchor="end">1.9069</text>
<text x="81.5" y="825.6" text-anchor="end">0.0594</text>
<text x="81.5" y="850.6" text-anchor="end">-1.7880</text>
<text x="81.5" y="874.6" text-anchor="end">-3.6354</text>
<text x="81.5" y="899.6" text-anchor="end">-5.4828</text>
</svg>
<svg width="980" height="944" viewBox="0 0 980 944" font-family='"Liberation Sans", "Noto Sans CJK SC", sans-serif'>
<rect x="0" y="0" width="980" height="20" fill="#eef0f5"/>
<rect x="66" y="0" width="70" height="20" fill="#e9eaf2"/>
<rect x="66" y="0" width="1" height="20" fill="#d3d4dc"/>
<rect x="66" y="19" width="70" height="1" fill="#cfd0d8"/>
<rect x="137" y="0" width="67" height="20" fill="#e9eaf2"/>
<rect x="137" y="0" width="1" height="20" fill="#d3d4dc"/>
<rect x="137" y="19" width="67" height="1" fill="#cfd0d8"/>
<rect x="205" y="0" width="45" height="20" fill="#e9eaf2"/>
<rect x="205" y="0" width="1" height="20" fill="#d3d4dc"/>
<rect x="205" y="19" width="45" height="1" fill="#cfd0d8"/>
<rect x="251" y="0" width="46" height="20" fill="#e9eaf2"/>
<rect x="251" y="0" width="1" height="20" fill="#d3d4dc"/>
<rect x="251" y="19" width="46" height="1" fill="#cfd0d8"/>
<rect x="298" y="0" width="46" height="20" fill="#e9eaf2"/>
<rect x="298" y="0" width="1" height="20" fill="#d3d4dc"/>
<rect x="298" y="19" width="46" height="1" fill="#cfd0d8"/>
<rect x="345" y="0" width="46" height="20" fill="#e9eaf2"/>
<rect x="345" y="0" width="1" height="20" fill="#d3d4dc"/>
<rect x="345" y="19" width="46" height="1" fill="#cfd0d8"/>
<rect x="392" y="0" width="27" height="20" fill="#e9eaf2"/>
<rect x="392" y="0" width="1" height="20" fill="#d3d4dc"/>
<rect x="392" y="19" width="27" height="1" fill="#cfd0d8"/>
<rect x="420" y="0" width="27" height="20" fill="#e9eaf2"/>
<rect x="420" y="0" width="1" height="20" fill="#d3d4dc"/>
<rect x="420" y="19" width="27" height="1" fill="#cfd0d8"/>
<rect x="448" y="0" width="27" height="20" fill="#e9eaf2"/>
<rect x="448" y="0" width="1" height="20" fill="#d3d4dc"/>
<rect x="448" y="19" width="27" height="1" fill="#cfd0d8"/>
<rect x="476" y="0" width="27" height="20" fill="#e9eaf2"/>
<rect x="476" y="0" width="1" height="20" fill="#d3d4dc"/>
<rect x="476" y="19" width="27" height="1" fill="#cfd0d8"/>
<rect x="504" y="0" width="27" height="20" fill="#e9eaf2"/>
<rect x="504" y="0" width="1" height="20" fill="#d3d4dc"/>
<rect x="504" y="19" width="27" height="1" fill="#cfd0d8"/>
<rect x="532" y="0" width="27" height="20" fill="#e9eaf2"/>
<rect x="532" y="0" width="1" height="20" fill="#d3d4dc"/>
<rect x="532" y="19" width="27" height="1" fill="#cfd0d8"/>
<rect x="560" y="0" width="27" height="20" fill="#e9eaf2"/>
<rect x="560" y="0" width="1" height="20" fill="#d3d4dc"/>
<rect x="560" y="19" width="27" height="1" fill="#cfd0d8"/>
<rect x="588" y="0" width="27" height="20" fill="#e9eaf2"/>
<rect x="588" y="0" width="1" height="20" fill="#d3d4dc"/>
<rect x="588" y="19" width="27" height="1" fill="#cfd0d8"/>
<rect x="616" y="0" width="26" height="20" fill="#e9eaf2"/>
<rect x="616" y="0" width="1" height="20" fill="#d3d4dc"/>
<rect x="616" y="19" width="26" height="1" fill="#cfd0d8"/>
<rect x="643" y="0" width="28" height="20" fill="#e9eaf2"/>
<rect x="643" y="0" width="1" height="20" fill="#d3d4dc"/>
<rect x="643" y="19" width="28" height="1" fill="#cfd0d8"/>
<rect x="672" y="0" width="69" height="20" fill="#e9eaf2"/>
<rect x="672" y="0" width="1" height="20" fill="#d3d4dc"/>
<rect x="672" y="19" width="69" height="1" fill="#cfd0d8"/>
<rect x="742" y="0" width="27" height="20" fill="#e9eaf2"/>
<rect x="742" y="0" width="1" height="20" fill="#d3d4dc"/>
<rect x="742" y="19" width="27" height="1" fill="#cfd0d8"/>
<rect x="770" y="0" width="47" height="20" fill="#e9eaf2"/>
<rect x="770" y="0" width="1" height="20" fill="#d3d4dc"/>
<rect x="770" y="19" width="47" height="1" fill="#cfd0d8"/>
<rect x="818" y="0" width="45" height="20" fill="#e9eaf2"/>
<rect x="818" y="0" width="1" height="20" fill="#d3d4dc"/>
<rect x="818" y="19" width="45" height="1" fill="#cfd0d8"/>
<rect x="864" y="0" width="47" height="20" fill="#e9eaf2"/>
<rect x="864" y="0" width="1" height="20" fill="#d3d4dc"/>
<rect x="864" y="19" width="47" height="1" fill="#cfd0d8"/>
<rect x="912" y="0" width="26" height="20" fill="#e9eaf2"/>
<rect x="912" y="0" width="1" height="20" fill="#d3d4dc"/>
<rect x="912" y="19" width="26" height="1" fill="#cfd0d8"/>
<rect x="939" y="0" width="27" height="20" fill="#e9eaf2"/>
<rect x="939" y="0" width="1" height="20" fill="#d3d4dc"/>
<rect x="939" y="19" width="27" height="1" fill="#cfd0d8"/>
<rect x="967" y="0" width="14" height="20" fill="#e9eaf2"/>
<rect x="967" y="0" width="1" height="20" fill="#d3d4dc"/>
<rect x="967" y="19" width="14" height="1" fill="#cfd0d8"/>
<rect x="0" y="0" width="65" height="19" fill="#ff6a00"/>
<rect x="0" y="18" width="65" height="1" fill="#f06000"/>
<rect x="0" y="19" width="65" height="1" fill="#f3f4f8"/>
<path d="M9,5.5 L14.8,0.3 L14.8,2.7 C19.5,2.7 22.8,5.5 22.7,11.6 C21.2,8.6 18.6,7.5 14.8,7.5 L14.8,10.5 Z" fill="#fff9f0"/>
<text x="25" y="11" font-family='"Noto Sans CJK SC", "Liberation Sans", sans-serif' font-size="13" fill="#fff6ea">返回</text>
<path d="M86.5,0 L93,6.6 L91,6.6 L91,12.7 L87.8,12.7 L87.8,8.6 L85.2,8.6 L85.2,12.7 L82,12.7 L82,6.6 L80,6.6 Z" fill="#333c46"/>
<text x="96" y="11" font-family='"Noto Sans CJK SC", "Liberation Sans", sans-serif' font-size="13" fill="#343a45">首页</text>
<path d="M173.9,11.2 A5.7,5.7 0 1 1 175.85,6.0" fill="none" stroke="#343a45" stroke-width="1.7"/>
<path d="M174.9,6.2 L179.9,6.2 L177.4,9.9 Z" fill="#343a45"/>
<path d="M218,10.6 L221,8.8 L221,13.9 L218,13.9 Z M223,6 L224.4,5 L225.8,6 L225.8,13.9 L223,13.9 Z M228,9 L230.8,7 L230.8,13.9 L228,13.9 Z M233.1,4 L236,2 L236,13.9 L233.1,13.9 Z" fill="#343a45"/>
<polyline points="218.1,7.6 224.5,1.5 228.5,5.6 235,-0.3" fill="none" stroke="#343a45" stroke-width="1.6"/>
<g fill="#343a45" stroke="#343a45"><rect x="264" y="3" width="3.7" height="6.6" stroke="none"/><line x1="265.9" y1="2.4" x2="265.9" y2="10.2" stroke-width="1"/><rect x="269.4" y="1.2" width="3.3" height="7.2" stroke="none"/><line x1="271.2" y1="0" x2="271.2" y2="13.7" stroke-width="1.2"/><rect x="275" y="5.7" width="3.6" height="4" stroke="none"/><line x1="276.8" y1="2.9" x2="276.8" y2="12.9" stroke-width="1.2"/><rect x="280.3" y="5" width="3.6" height="3.9" stroke="none"/><line x1="282.2" y1="1.1" x2="282.2" y2="12.7" stroke-width="1.2"/></g>
<text x="320.7" y="12" text-anchor="middle" font-family='"Liberation Sans", "Noto Sans CJK SC", sans-serif' font-size="16" fill="#343a45">tick</text>
<text x="358.5" y="10.8" font-size="13" fill="#343a45">5</text>
<text x="366.5" y="11" font-family='"Noto Sans CJK SC", "Liberation Sans", sans-serif' font-size="11" fill="#343a45">日</text>
<text x="405.8" y="11" text-anchor="middle" font-family='"Liberation Sans", "Noto Sans CJK SC", sans-serif' font-size="14" fill="#343a45">5</text>
<text x="433.6" y="11" text-anchor="middle" font-family='"Liberation Sans", "Noto Sans CJK SC", sans-serif' font-size="14" fill="#343a45">15</text>
<text x="461.5" y="11" text-anchor="middle" font-family='"Liberation Sans", "Noto Sans CJK SC", sans-serif' font-size="14" fill="#343a45">30</text>
<text x="489.5" y="11" text-anchor="middle" font-family='"Liberation Sans", "Noto Sans CJK SC", sans-serif' font-size="14" fill="#343a45">60</text>
<text x="517.2" y="11" text-anchor="middle" font-family='"Liberation Sans", "Noto Sans CJK SC", sans-serif' font-size="13.5" fill="#343a45">2H</text>
<text x="545.1" y="11" text-anchor="middle" font-family='"Liberation Sans", "Noto Sans CJK SC", sans-serif' font-size="13.5" fill="#343a45">4H</text>
<text x="573.6" y="11.2" text-anchor="middle" font-family='"Noto Sans CJK SC", "Liberation Sans", sans-serif' font-size="13" fill="#343a45">日</text>
<text x="601.6" y="11.2" text-anchor="middle" font-family='"Noto Sans CJK SC", "Liberation Sans", sans-serif' font-size="13" fill="#343a45">周</text>
<text x="629.3" y="11.2" text-anchor="middle" font-family='"Noto Sans CJK SC", "Liberation Sans", sans-serif' font-size="13" fill="#343a45">月</text>
<text x="657" y="11.2" text-anchor="middle" font-family='"Noto Sans CJK SC", "Liberation Sans", sans-serif' font-size="13" fill="#343a45">年</text>
<g stroke="#343a45" stroke-width="2.2" stroke-linecap="round"><line x1="687" y1="0.8" x2="699" y2="0.8"/><line x1="687" y1="6" x2="699" y2="6"/><line x1="687" y1="11.2" x2="699" y2="11.2"/></g>
<text x="703.5" y="11" font-family='"Noto Sans CJK SC", "Liberation Sans", sans-serif' font-size="13" fill="#343a45">更多</text>
<path d="M757.4,0.4 C755,-0.3 753.9,1 753.7,3 L752.4,10.6 C752,12.6 750.4,13 748.4,12.3" fill="none" stroke="#343a45" stroke-width="1.9"/>
<line x1="750.1" y1="4.5" x2="755.2" y2="4.5" stroke="#343a45" stroke-width="1.6"/>
<path d="M757.6,6.3 L763.4,12.2 M763.4,6.3 L757.6,12.2" stroke="#343a45" stroke-width="1.9"/>
<circle cx="794" cy="6" r="6.2" fill="none" stroke="#343a45" stroke-width="1.3"/>
<line x1="798.6" y1="10.6" x2="801.6" y2="13.5" stroke="#343a45" stroke-width="1.5"/>
<line x1="790.9" y1="5.6" x2="797.1" y2="5.6" stroke="#343a45" stroke-width="1.4"/>
<circle cx="841.3" cy="6" r="6.2" fill="none" stroke="#343a45" stroke-width="1.3"/>
<line x1="845.9" y1="10.6" x2="848.9" y2="13.5" stroke="#343a45" stroke-width="1.5"/>
<line x1="838.1999999999999" y1="5.6" x2="844.4" y2="5.6" stroke="#343a45" stroke-width="1.4"/>
<line x1="841.3" y1="2.5" x2="841.3" y2="8.7" stroke="#343a45" stroke-width="1.4"/>
<path d="M883.2,11.4 L884,8.2 L890.6,1.6 L892.8,3.8 L886.2,10.4 Z" fill="#343a45"/>
<path d="M891.4,0.8 L892.4,-0.2 L894.8,2.2 L893.6,3.2 Z" fill="#343a45"/>
<line x1="881" y1="13.5" x2="896" y2="13.5" stroke="#343a45" stroke-width="1.3"/>
<path d="M916.3,14.5 L925.4,3.3 L934.4,14.5 Z" fill="none" stroke="#454b55" stroke-width="1.1" stroke-linejoin="round"/>
<line x1="916.5" y1="14.6" x2="934.3" y2="14.6" stroke="#7a7f88" stroke-width="1.4"/>
<polyline points="944.6,-0.5 953.4,10.6 962.1,-0.5" fill="none" stroke="#454b55" stroke-width="1.1"/>
<line x1="944.2" y1="14.6" x2="962.9" y2="14.6" stroke="#3a404a" stroke-width="1.2"/>
<text x="974.5" y="11" font-size="14" font-weight="bold" fill="#343a45">$</text>
<rect x="0" y="20" width="15" height="213" fill="#dfe0e8"/>
<rect x="0" y="70" width="15" height="1" fill="#dce6f3"/>
<rect x="0" y="71" width="14" height="46" fill="#ff6a00"/>
<rect x="14" y="71" width="1" height="46" fill="#eaf1fa"/>
<rect x="0" y="169" width="15" height="1" fill="#cfd1da"/>
<text x="4" y="37.5" text-anchor="middle" font-family='"Noto Sans CJK SC", "Liberation Sans", sans-serif' font-size="13" fill="#1d2433">分</text>
<text x="4" y="51.5" text-anchor="middle" font-family='"Noto Sans CJK SC", "Liberation Sans", sans-serif' font-size="13" fill="#1d2433">时</text>
<text x="4" y="65.5" text-anchor="middle" font-family='"Noto Sans CJK SC", "Liberation Sans", sans-serif' font-size="13" fill="#1d2433">图</text>
<text x="5.2" y="86" text-anchor="middle" font-family="Liberation Serif, serif" font-size="12" fill="#fff">K</text>
<text x="4" y="100.3" text-anchor="middle" font-family='"Noto Sans CJK SC", "Liberation Sans", sans-serif' font-size="13" fill="#ffffff">线</text>
<text x="4" y="114.3" text-anchor="middle" font-family='"Noto Sans CJK SC", "Liberation Sans", sans-serif' font-size="13" fill="#ffffff">图</text>
<text x="4" y="134.5" text-anchor="middle" font-family='"Noto Sans CJK SC", "Liberation Sans", sans-serif' font-size="13" fill="#1d2433">闪</text>
<text x="4" y="148.5" text-anchor="middle" font-family='"Noto Sans CJK SC", "Liberation Sans", sans-serif' font-size="13" fill="#1d2433">电</text>
<text x="4" y="162.5" text-anchor="middle" font-family='"Noto Sans CJK SC", "Liberation Sans", sans-serif' font-size="13" fill="#1d2433">图</text>
<text x="4" y="187.6" text-anchor="middle" font-family='"Noto Sans CJK SC", "Liberation Sans", sans-serif' font-size="13" fill="#1d2433">合</text>
<text x="4" y="201.6" text-anchor="middle" font-family='"Noto Sans CJK SC", "Liberation Sans", sans-serif' font-size="13" fill="#1d2433">约</text>
<text x="4" y="215.6" text-anchor="middle" font-family='"Noto Sans CJK SC", "Liberation Sans", sans-serif' font-size="13" fill="#1d2433">资</text>
<text x="4" y="229.6" text-anchor="middle" font-family='"Noto Sans CJK SC", "Liberation Sans", sans-serif' font-size="13" fill="#1d2433">料</text>
<text x="86.3" y="35" font-family='"Noto Sans CJK SC", "Liberation Sans", sans-serif' font-size="12" font-weight="500" fill="#111">美元韩元</text>
<text x="132.6" y="35" font-family='"Noto Sans CJK SC", "Liberation Sans", sans-serif' font-size="12.5" letter-spacing="1" fill="#ff7a00">【日线】</text>
<circle cx="187.5" cy="31" r="4" fill="none" stroke="#ff8a1a" stroke-width="0.9"/>
<line x1="183.5" y1="31" x2="191.5" y2="31" stroke="#ff8a1a" stroke-width="0.9"/><line x1="187.5" y1="27" x2="187.5" y2="35" stroke="#ff8a1a" stroke-width="0.9"/>
<rect x="200.6" y="21.6" width="11" height="12" fill="#fff" stroke="#00007a" stroke-width="1.2" rx="0.8"/>
<polyline points="201,28.8 204.5,24.4 207.5,27.8 209.5,25.5 211.2,25.5" fill="none" stroke="#ff0000" stroke-width="1.1"/>
<polyline points="201,31.8 204.5,27.4 207.5,30.8 209.5,28.5 211.2,28.5" fill="none" stroke="#0000ff" stroke-width="1.1"/>
<text x="215.5" y="34" font-size="12.5" letter-spacing="0.05" fill="#111">MA1(55,0,0,0)</text>
<text x="298.3" y="34" font-size="12.5" letter-spacing="0.07" fill="#111">MA55:1447.8074</text>
<text x="402" y="34" font-size="12.5" letter-spacing="0.07" fill="#1a1a9a">MA0:1430.5000</text>
<text x="499" y="34" font-size="12.5" letter-spacing="0.07" fill="#f0f">MA0:1430.5000</text>
<text x="595.6" y="34" font-size="12.5" letter-spacing="0.07" fill="#ff8c1a">MA0:1430.5000</text>
<text x="486.6" y="105" font-size="12.3" font-weight="bold" fill="#d9443a">1487.0400</text>
<text x="87.3" y="717" font-size="12.5" fill="#111">MACD(13,8,9)</text>
<text x="170.2" y="717" font-size="12.3" fill="#111">DIFF:-3.0549</text>
<text x="249.5" y="717" font-size="12.3" fill="#1a1a9a">DEA:-2.0840</text>
<text x="327.6" y="717" font-size="12.5" fill="#f0f">MACD:-1.9417</text>
<g stroke="#ff0000" stroke-width="1.3" stroke-linecap="round"><line x1="23.9" y1="703.4" x2="23.9" y2="704.8"/><line x1="23.9" y1="715.2" x2="23.9" y2="716.6"/><line x1="17.6" y1="709.6" x2="19.2" y2="709.6"/><line x1="28.6" y1="709.6" x2="30.2" y2="709.6"/><line x1="18.3" y1="704.3" x2="19.5" y2="705.5"/><line x1="29.5" y1="704.3" x2="28.3" y2="705.5"/><line x1="18.3" y1="715" x2="19.5" y2="713.8"/><line x1="29.5" y1="715" x2="28.3" y2="713.8"/></g><circle cx="23.9" cy="709.7" r="3.4" fill="#fff" stroke="#000" stroke-width="1.1"/><circle cx="23.9" cy="709.7" r="2" fill="#ff0000"/>
<line x1="208.5" y1="922" x2="208.5" y2="926" stroke="#d5dbe3"/>
<text x="210.5" y="934" font-size="12.3" font-weight="bold" fill="#2a2e3c">2024/11</text>
<line x1="348.5" y1="922" x2="348.5" y2="926" stroke="#d5dbe3"/>
<text x="350.5" y="934" font-size="12.3" font-weight="bold" fill="#2a2e3c">2024/12</text>
<line x1="502.5" y1="922" x2="502.5" y2="926" stroke="#d5dbe3"/>
<text x="504.5" y="934" font-size="12.3" font-weight="bold" fill="#2a2e3c">2025/01</text>
<line x1="656.5" y1="922" x2="656.5" y2="926" stroke="#d5dbe3"/>
<text x="658.5" y="934" font-size="12.3" font-weight="bold" fill="#2a2e3c">2025/02</text>
<line x1="101" y1="938.5" x2="247" y2="938.5" stroke="#e4e9ef"/>
<line x1="925" y1="938.5" x2="980" y2="938.5" stroke="#e4e9ef"/>
<rect x="15.5" y="921.5" width="68.5" height="18.5" fill="#fff" stroke="#d3d9e1"/>
<text x="28.8" y="937.3" font-family='"Noto Sans CJK SC", "Liberation Sans", sans-serif' font-size="13" font-weight="bold" fill="#ff7200">日线</text>
<path d="M59.8,936 L63.8,928.2 L67.8,936 Z" fill="#ff7200"/>
<text x="851.6" y="920" font-size="31" letter-spacing="1.9" fill="#b9a48e" stroke="#b9a48e" stroke-width="0.25">FX678</text>
<text x="850.6" y="919" font-size="31" letter-spacing="1.9" fill="#e3edf9" stroke="#e3edf9" stroke-width="0.25">FX678</text>
<rect x="15" y="941" width="965" height="3" fill="#fff"/>
<rect x="15" y="941" width="965" height="1" fill="#d0d5dd"/>
<rect x="15" y="941" width="39" height="3" fill="#ff6a00"/>
<rect x="54" y="941" width="1" height="3" fill="#c6cbd4"/>
<rect x="94" y="941" width="1" height="3" fill="#c6cbd4"/>
<rect x="152" y="941" width="1" height="3" fill="#c6cbd4"/>
<rect x="180" y="941" width="1" height="3" fill="#c6cbd4"/>
<rect x="220" y="941" width="1" height="3" fill="#c6cbd4"/>
<rect x="260" y="941" width="1" height="3" fill="#c6cbd4"/>
<rect x="294" y="941" width="1" height="3" fill="#c6cbd4"/>
<rect x="334" y="941" width="1" height="3" fill="#c6cbd4"/>
<rect x="368" y="941" width="1" height="3" fill="#c6cbd4"/>
<rect x="402" y="941" width="1" height="3" fill="#c6cbd4"/>
<rect x="443" y="941" width="1" height="3" fill="#c6cbd4"/>
<rect x="476" y="941" width="1" height="3" fill="#c6cbd4"/>
<rect x="504" y="941" width="1" height="3" fill="#c6cbd4"/>
<rect x="538" y="941" width="1" height="3" fill="#c6cbd4"/>
<rect x="578" y="941" width="1" height="3" fill="#c6cbd4"/>
<g fill="#fff"><rect x="25" y="942" width="1" height="2"/><rect x="28" y="942" width="1" height="2"/><rect x="33" y="942" width="1" height="2"/><rect x="37" y="942" width="1" height="2"/></g>
<g fill="#333"><rect x="65" y="942" width="1" height="2"/><rect x="70" y="942" width="1" height="2"/><rect x="73" y="942" width="1" height="2"/><rect x="78" y="942" width="2" height="2"/><rect x="84" y="942" width="2" height="2"/></g>
<g fill="#ff7a00"><rect x="123" y="942" width="1" height="2"/><rect x="127" y="942" width="1" height="2"/><rect x="131" y="942" width="1" height="2"/><rect x="135" y="942" width="1" height="2"/></g>
<g fill="#333"><rect x="548" y="942" width="1" height="2"/><rect x="552" y="942" width="1" height="2"/><rect x="558" y="942" width="10" height="1"/></g>
</svg>
</body></html>
